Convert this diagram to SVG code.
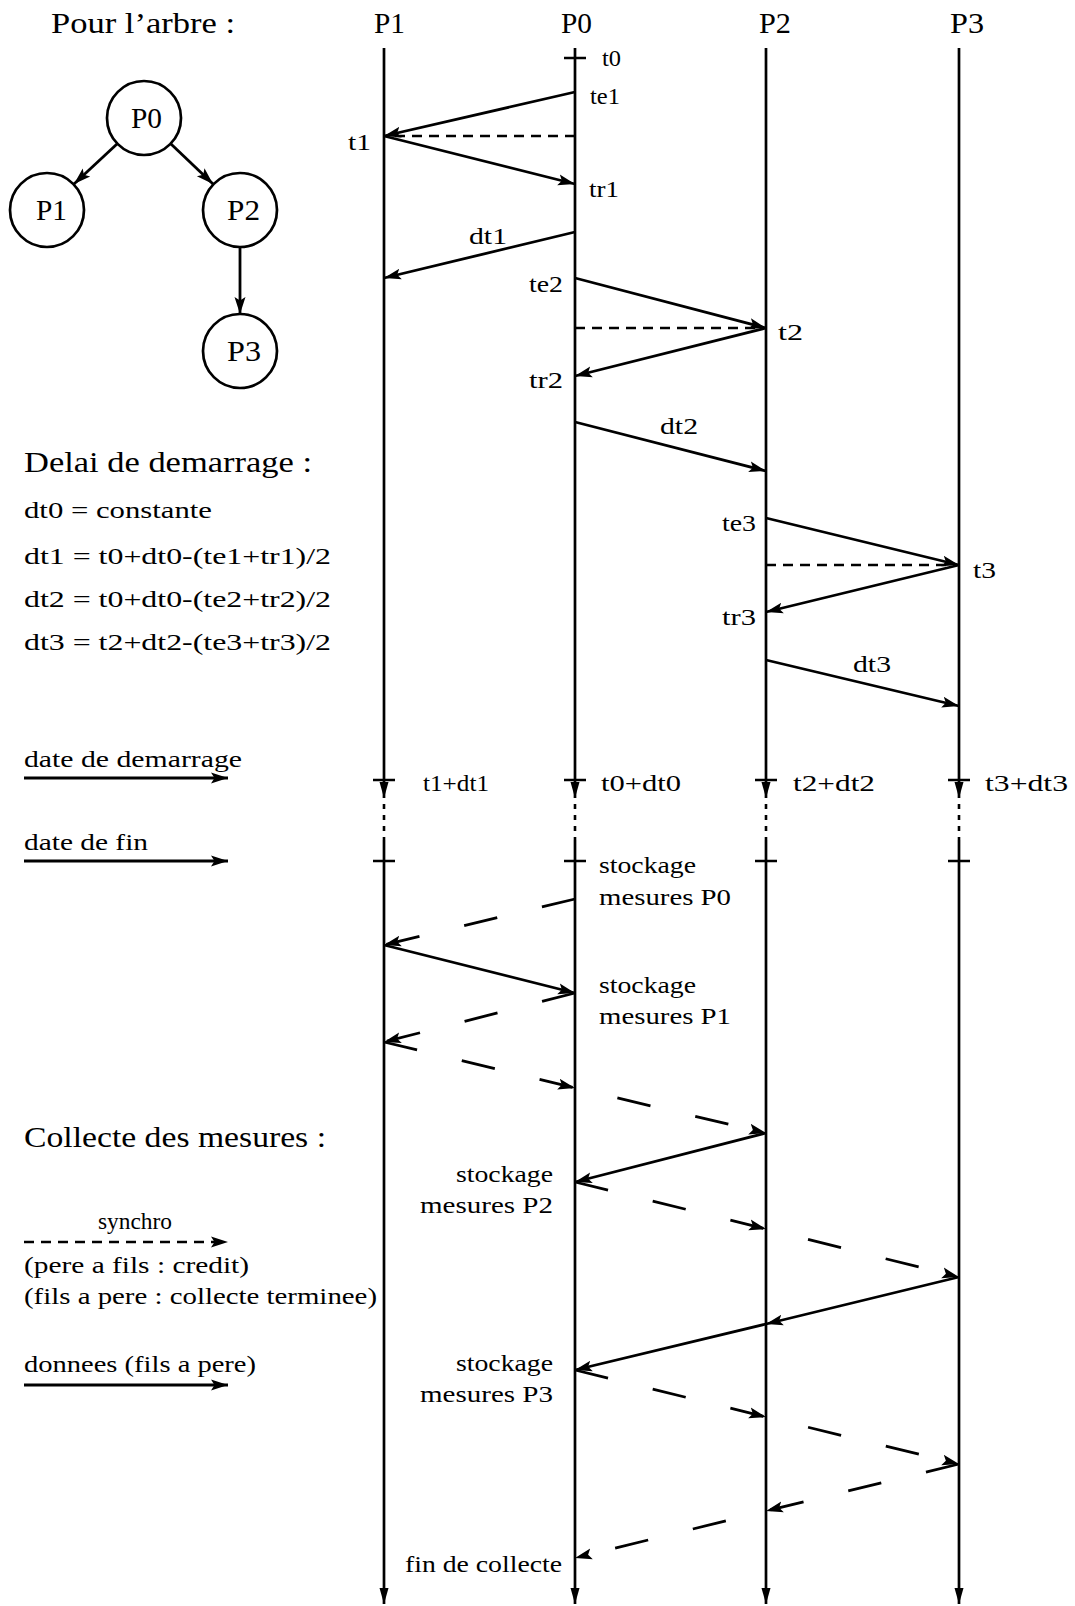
<svg xmlns="http://www.w3.org/2000/svg" width="1075" height="1606" viewBox="0 0 1075 1606">
<style>
text{font-family:"Liberation Serif","Times New Roman",serif;fill:#000}
.big{font-size:30px}
.lbl{font-size:24px}
.msg{stroke:#000;stroke-width:2.8;fill:none;marker-end:url(#ah)}
.mid{marker-mid:url(#ah)}
.sync{stroke:#000;stroke-width:2.5;fill:none;stroke-dasharray:10 7}
.long{stroke-dasharray:34 46}
.dots{stroke:#000;stroke-width:2.6;stroke-dasharray:5 6}
.life{stroke:#000;stroke-width:2.7;fill:none;marker-end:url(#down)}
.tick{stroke:#000;stroke-width:2.7}
circle{fill:none;stroke:#000;stroke-width:2.7}
</style>
<defs>
<marker id="ah" markerUnits="userSpaceOnUse" markerWidth="18" markerHeight="14" viewBox="0 0 18 14" refX="17" refY="7" orient="auto"><path d="M0,1.5 L17,7 L0,12.5 L3.5,7 z" fill="#000"/></marker>
<marker id="down" markerUnits="userSpaceOnUse" markerWidth="17" markerHeight="12" viewBox="0 0 17 12" refX="16" refY="6" orient="auto"><path d="M0,1.5 L16,6 L0,10.5 z" fill="#000"/></marker>
</defs>

<text class="big" x="51" y="33" textLength="184" lengthAdjust="spacingAndGlyphs">Pour l’arbre :</text>

<!-- tree -->
<g id="tree-P0"><circle cx="144" cy="118" r="37"/><text class="big" x="131" y="128" textLength="31" lengthAdjust="spacingAndGlyphs">P0</text></g>
<g id="tree-P1"><circle cx="47" cy="210" r="37"/><text class="big" x="36" y="220" textLength="31" lengthAdjust="spacingAndGlyphs">P1</text></g>
<g id="tree-P2"><circle cx="240" cy="210" r="37"/><text class="big" x="227" y="220" textLength="33" lengthAdjust="spacingAndGlyphs">P2</text></g>
<g id="tree-P3"><circle cx="240" cy="351" r="37"/><text class="big" x="227" y="361" textLength="34" lengthAdjust="spacingAndGlyphs">P3</text></g>
<g id="tree-edges">
<path class="msg" d="M117,144 L74,184"/>
<path class="msg" d="M171,144 L213,184"/>
<path class="msg" d="M240,247 L240,314"/>
</g>

<!-- lifelines -->
<g id="P1">
<text class="big" x="374" y="33" textLength="31" lengthAdjust="spacingAndGlyphs">P1</text>
<path class="life" d="M384,48 V798"/><path class="dots" d="M384,804 V840"/><path class="life" d="M384,840 V1604"/>
<path class="tick" d="M373,780 H395 M373,861 H395"/>
</g>
<g id="P0">
<text class="big" x="561" y="33" textLength="31" lengthAdjust="spacingAndGlyphs">P0</text>
<path class="life" d="M575,48 V798"/><path class="dots" d="M575,804 V840"/><path class="life" d="M575,840 V1604"/>
<path class="tick" d="M564,58 H586 M564,780 H586 M564,861 H586"/>
</g>
<g id="P2">
<text class="big" x="759" y="33" textLength="32" lengthAdjust="spacingAndGlyphs">P2</text>
<path class="life" d="M766,48 V798"/><path class="dots" d="M766,804 V840"/><path class="life" d="M766,840 V1604"/>
<path class="tick" d="M755,780 H777 M755,861 H777"/>
</g>
<g id="P3">
<text class="big" x="950" y="33" textLength="34" lengthAdjust="spacingAndGlyphs">P3</text>
<path class="life" d="M959,48 V798"/><path class="dots" d="M959,804 V840"/><path class="life" d="M959,840 V1604"/>
<path class="tick" d="M948,780 H970 M948,861 H970"/>
</g>

<!-- connectors -->
<g id="connectors">
<path class="msg" d="M575,92 L384,136"/>
<path class="sync" d="M575,136 H388"/>
<path class="msg" d="M384,136 L575,184"/>
<path class="msg" d="M575,232 L384,278"/>
<path class="msg" d="M575,278 L766,328"/>
<path class="sync" d="M575,328 H762"/>
<path class="msg" d="M766,328 L575,376"/>
<path class="msg" d="M575,422 L766,471"/>
<path class="msg" d="M766,518 L959,565"/>
<path class="sync" d="M766,565 H955"/>
<path class="msg" d="M959,565 L766,612"/>
<path class="msg" d="M766,660 L959,706"/>

<path class="msg long" d="M575,899 L384,945"/>
<path class="msg" d="M384,945 L575,993"/>
<path class="msg long" d="M575,993 L384,1042"/>
<path class="msg mid long" d="M384,1042 L575,1088 L766,1133"/>
<path class="msg" d="M766,1133 L575,1182"/>
<path class="msg mid long" d="M575,1182 L766,1229 L959,1277"/>
<path class="msg mid" d="M959,1277 L766,1324 L575,1370"/>
<path class="msg mid long" d="M575,1370 L766,1417 L959,1464"/>
<path class="msg mid long" d="M959,1464 L766,1511 L575,1558"/>
</g>

<!-- sequence labels -->
<g id="labels">
<text class="lbl" x="602" y="66" textLength="19" lengthAdjust="spacingAndGlyphs">t0</text>
<text class="lbl" x="590" y="104" textLength="30" lengthAdjust="spacingAndGlyphs">te1</text>
<text class="lbl" x="348" y="150" textLength="23" lengthAdjust="spacingAndGlyphs">t1</text>
<text class="lbl" x="589" y="197" textLength="30" lengthAdjust="spacingAndGlyphs">tr1</text>
<text class="lbl" x="469" y="244" textLength="38" lengthAdjust="spacingAndGlyphs">dt1</text>
<text class="lbl" x="529" y="292" textLength="34" lengthAdjust="spacingAndGlyphs">te2</text>
<text class="lbl" x="778" y="340" textLength="25" lengthAdjust="spacingAndGlyphs">t2</text>
<text class="lbl" x="529" y="388" textLength="34" lengthAdjust="spacingAndGlyphs">tr2</text>
<text class="lbl" x="660" y="434" textLength="38" lengthAdjust="spacingAndGlyphs">dt2</text>
<text class="lbl" x="722" y="531" textLength="34" lengthAdjust="spacingAndGlyphs">te3</text>
<text class="lbl" x="973" y="578" textLength="23" lengthAdjust="spacingAndGlyphs">t3</text>
<text class="lbl" x="722" y="625" textLength="34" lengthAdjust="spacingAndGlyphs">tr3</text>
<text class="lbl" x="853" y="672" textLength="38" lengthAdjust="spacingAndGlyphs">dt3</text>
<text class="lbl" x="423" y="791" textLength="66" lengthAdjust="spacingAndGlyphs">t1+dt1</text>
<text class="lbl" x="601" y="791" textLength="80" lengthAdjust="spacingAndGlyphs">t0+dt0</text>
<text class="lbl" x="793" y="791" textLength="82" lengthAdjust="spacingAndGlyphs">t2+dt2</text>
<text class="lbl" x="985" y="791" textLength="83" lengthAdjust="spacingAndGlyphs">t3+dt3</text>
<text class="lbl" x="599" y="873" textLength="97" lengthAdjust="spacingAndGlyphs">stockage</text>
<text class="lbl" x="599" y="905" textLength="132" lengthAdjust="spacingAndGlyphs">mesures P0</text>
<text class="lbl" x="599" y="993" textLength="97" lengthAdjust="spacingAndGlyphs">stockage</text>
<text class="lbl" x="599" y="1024" textLength="132" lengthAdjust="spacingAndGlyphs">mesures P1</text>
<text class="lbl" x="456" y="1182" textLength="97" lengthAdjust="spacingAndGlyphs">stockage</text>
<text class="lbl" x="420" y="1213" textLength="133" lengthAdjust="spacingAndGlyphs">mesures P2</text>
<text class="lbl" x="456" y="1371" textLength="97" lengthAdjust="spacingAndGlyphs">stockage</text>
<text class="lbl" x="420" y="1402" textLength="133" lengthAdjust="spacingAndGlyphs">mesures P3</text>
<text class="lbl" x="405" y="1572" textLength="157" lengthAdjust="spacingAndGlyphs">fin de collecte</text>
</g>

<!-- left texts -->
<g id="legend">
<text class="big" x="24" y="472" textLength="288" lengthAdjust="spacingAndGlyphs">Delai de demarrage :</text>
<text class="lbl" x="24" y="518" textLength="188" lengthAdjust="spacingAndGlyphs">dt0 = constante</text>
<text class="lbl" x="24" y="564" textLength="307" lengthAdjust="spacingAndGlyphs">dt1 = t0+dt0-(te1+tr1)/2</text>
<text class="lbl" x="24" y="607" textLength="307" lengthAdjust="spacingAndGlyphs">dt2 = t0+dt0-(te2+tr2)/2</text>
<text class="lbl" x="24" y="650" textLength="307" lengthAdjust="spacingAndGlyphs">dt3 = t2+dt2-(te3+tr3)/2</text>
<text class="lbl" x="24" y="767" textLength="218" lengthAdjust="spacingAndGlyphs">date de demarrage</text>
<path class="msg" d="M24,778 H228"/>
<text class="lbl" x="24" y="850" textLength="124" lengthAdjust="spacingAndGlyphs">date de fin</text>
<path class="msg" d="M24,861 H228"/>
<text class="big" x="24" y="1147" textLength="302" lengthAdjust="spacingAndGlyphs">Collecte des mesures :</text>
<text class="lbl" x="98" y="1229" textLength="74" lengthAdjust="spacingAndGlyphs">synchro</text>
<path class="sync" d="M24,1242 H228" marker-end="url(#ah)"/>
<text class="lbl" x="24" y="1273" textLength="225" lengthAdjust="spacingAndGlyphs">(pere a fils : credit)</text>
<text class="lbl" x="24" y="1304" textLength="353" lengthAdjust="spacingAndGlyphs">(fils a pere : collecte terminee)</text>
<text class="lbl" x="24" y="1372" textLength="232" lengthAdjust="spacingAndGlyphs">donnees (fils a pere)</text>
<path class="msg" d="M24,1385 H228"/>
</g>
</svg>
